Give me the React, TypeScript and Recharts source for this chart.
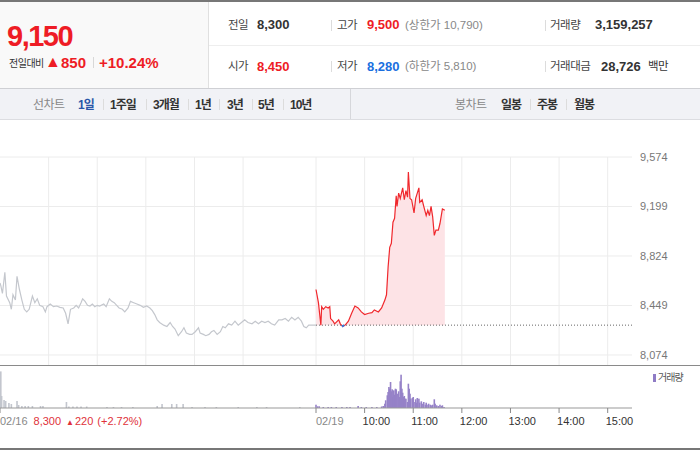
import React from 'react';
import { ComposedChart, Line, Area, Bar, XAxis, YAxis, CartesianGrid } from 'recharts';

const FONT = '"Liberation Sans", Arial, "Noto Sans CJK KR", "DejaVu Sans", sans-serif';

// ---------- data ----------
const prevClose = 8300;
const priceTicks = [8074, 8449, 8824, 9199, 9574];
const gridMinutes = [0, 60, 120, 180, 240, 300, 360, 390, 450, 510, 570, 630, 690, 750];
const axisTicks = [0, 390, 450, 510, 570, 630, 690, 750];
const axisLabels = ['02/16', '02/19', '10:00', '11:00', '12:00', '13:00', '14:00', '15:00'];
const prevSummary = { close: '8,300', change: '220', rate: '(+2.72%)' };

// 02/16 (previous session) price, [time, price]
const prevSession: [string, number][] = [
  ['09:00', 8620], ['09:01', 8600], ['09:03', 8540], ['09:06', 8700], ['09:08', 8520], ['09:12', 8470], ['09:14', 8420], ['09:16', 8530], ['09:19', 8490], ['09:21', 8670],
  ['09:24', 8570], ['09:27', 8490], ['09:30', 8420], ['09:33', 8400], ['09:36', 8420], ['09:40', 8520], ['09:43', 8470], ['09:46', 8500], ['09:49', 8450], ['09:53', 8440],
  ['09:56', 8400], ['09:58', 8440], ['10:02', 8460], ['10:06', 8440], ['10:10', 8445], ['10:14', 8435], ['10:18', 8430], ['10:21', 8390], ['10:24', 8310], ['10:27', 8420],
  ['10:31', 8430], ['10:34', 8450], ['10:37', 8430], ['10:40', 8470], ['10:42', 8500], ['10:45', 8480], ['10:48', 8450], ['10:51', 8445], ['10:54', 8460], ['10:57', 8440],
  ['11:00', 8450], ['11:03', 8445], ['11:08', 8460], ['11:11', 8440], ['11:15', 8500], ['11:18', 8480], ['11:21', 8470], ['11:24', 8450], ['11:27', 8430], ['11:31', 8420],
  ['11:34', 8400], ['11:38', 8430], ['11:41', 8480], ['11:45', 8470], ['11:49', 8460], ['11:53', 8450], ['11:57', 8435], ['12:01', 8445], ['12:05', 8430], ['12:08', 8410],
  ['12:11', 8380], ['12:14', 8340], ['12:17', 8320], ['12:22', 8300], ['12:26', 8290], ['12:30', 8320], ['12:33', 8290], ['12:36', 8270], ['12:40', 8220], ['12:44', 8250],
  ['12:47', 8280], ['12:50', 8240], ['12:54', 8230], ['12:57', 8230], ['13:01', 8250], ['13:05', 8280], ['13:07', 8240], ['13:11', 8230], ['13:14', 8220], ['13:18', 8230],
  ['13:21', 8250], ['13:24', 8260], ['13:28', 8230], ['13:32', 8250], ['13:35', 8290], ['13:38', 8280], ['13:42', 8310], ['13:46', 8300], ['13:50', 8330], ['13:54', 8300],
  ['13:58', 8320], ['14:02', 8340], ['14:06', 8320], ['14:11', 8310], ['14:15', 8330], ['14:19', 8310], ['14:23', 8330], ['14:27', 8320], ['14:31', 8330], ['14:35', 8310],
  ['14:39', 8300], ['14:44', 8340], ['14:48', 8340], ['14:52', 8350], ['14:56', 8330], ['15:00', 8360], ['15:04', 8340], ['15:08', 8360], ['15:12', 8330], ['15:15', 8290],
  ['15:18', 8280], ['15:21', 8300], ['15:30', 8300],
];

// 02/19 (today) price, [time, price]
const todaySession: [string, number][] = [
  ['09:00', 8570], ['09:03', 8470], ['09:06', 8300], ['09:07', 8440], ['09:09', 8420], ['09:12', 8440], ['09:15', 8430], ['09:17', 8440], ['09:18', 8350], ['09:21', 8330],
  ['09:23', 8310], ['09:28', 8340], ['09:30', 8310], ['09:33', 8290], ['09:36', 8300], ['09:40', 8330], ['09:44', 8390], ['09:48', 8445], ['09:52', 8430], ['09:56', 8400],
  ['10:00', 8380], ['10:05', 8390], ['10:09', 8395], ['10:12', 8415], ['10:17', 8400], ['10:21', 8430], ['10:25', 8490], ['10:27', 8530], ['10:29', 8740], ['10:31', 8890],
  ['10:33', 8920], ['10:35', 9080], ['10:37', 9110], ['10:39', 9280], ['10:40', 9200], ['10:42', 9300], ['10:44', 9260], ['10:47', 9340], ['10:49', 9250], ['10:51', 9320],
  ['10:53', 9270], ['10:54', 9460], ['10:56', 9260], ['10:58', 9250], ['11:01', 9150], ['11:03', 9260], ['11:05', 9300], ['11:07', 9340], ['11:08', 9230], ['11:11', 9250],
  ['11:13', 9200], ['11:16', 9130], ['11:18', 9170], ['11:20', 9130], ['11:22', 9200], ['11:24', 9120], ['11:26', 8980], ['11:28', 9020], ['11:31', 9020], ['11:33', 9070],
  ['11:36', 9180], ['11:39', 9170],
];

// part of today's line below the previous close (drawn blue)
const todayBelowClose: [string, number][] = [['09:32', 8300], ['09:33', 8290], ['09:35', 8300]];

// volume, [time, shares]
const prevVolume: [string, number][] = [
  ['09:00', 183000], ['09:02', 60000], ['09:05', 40000], ['09:07', 35000], ['09:11', 25000], ['09:14', 20000], ['09:21', 35000], ['09:23', 15000], ['09:27', 10000], ['09:31', 10000],
  ['09:35', 10000], ['09:40', 10000], ['09:50', 10000], ['09:53', 10000], ['10:22', 30000], ['10:25', 7500], ['10:30', 7500], ['10:35', 7500], ['10:40', 7500], ['10:47', 7500],
  ['11:12', 5000], ['11:20', 5000], ['11:30', 5000], ['11:44', 5000], ['12:14', 10000], ['12:20', 20000], ['12:32', 20000], ['12:38', 20000], ['12:46', 20000], ['12:57', 5000],
  ['13:13', 5000], ['13:27', 5000], ['13:54', 5000], ['14:17', 5000], ['14:29', 5000], ['15:10', 5000],
];
const todayVolume: [string, number][] = [
  ['09:00', 16500], ['09:02', 8500], ['09:04', 8500], ['09:09', 5000], ['09:15', 5000], ['09:19', 5000], ['09:25', 5000], ['09:32', 5000], ['09:38', 5000], ['09:42', 5000],
  ['09:52', 10000], ['09:56', 5000], ['10:02', 5000], ['10:09', 5000], ['10:15', 5000], ['10:21', 7500], ['10:23', 10000],
  ['10:25', 21500], ['10:26', 38500], ['10:28', 63500], ['10:29', 80000], ['10:30', 105000], ['10:31', 96500], ['10:32', 130000], ['10:33', 83500], ['10:34', 93500], ['10:35', 55000],
  ['10:36', 88500], ['10:37', 66500], ['10:38', 96500], ['10:39', 93500], ['10:41', 71500], ['10:42', 83500], ['10:43', 55000], ['10:44', 133500], ['10:45', 166500], ['10:46', 96500],
  ['10:47', 76500], ['10:48', 55000], ['10:49', 60000], ['10:50', 46500], ['10:51', 46500], ['10:53', 30000], ['10:54', 121500], ['10:55', 96500], ['10:56', 71500], ['10:57', 46500],
  ['10:59', 50000], ['11:00', 55000], ['11:01', 30000], ['11:03', 43500], ['11:04', 26500], ['11:05', 50000], ['11:07', 46500], ['11:08', 26500], ['11:10', 33500], ['11:11', 21500],
  ['11:13', 30000], ['11:15', 16500], ['11:16', 26500], ['11:17', 16500], ['11:19', 21500], ['11:21', 16500], ['11:23', 13500], ['11:24', 16500], ['11:26', 43500], ['11:27', 21500],
  ['11:29', 13500], ['11:31', 10000], ['11:33', 16500], ['11:35', 10000], ['11:36', 13500], ['11:38', 5000],
];

// ---------- helpers ----------
const SESSION = 390; // minutes 09:00-15:30
const toMin = (day: number, hhmm: string) => {
  const [h, m] = hhmm.split(':').map(Number);
  return day * SESSION + (h - 9) * 60 + m;
};
const prevData = prevSession.map(([t, p]) => ({ t: toMin(0, t), p }));
const todayData = todaySession.map(([t, p]) => ({ t: toMin(1, t), p }));
const dipData = todayBelowClose.map(([t, p]) => ({ t: toMin(1, t), p }));
const baseData = [{ t: SESSION, p: prevClose }, { t: SESSION * 2, p: prevClose }];
const volMap = new Map<number, { t: number; prev?: number; today?: number }>();
prevVolume.forEach(([t, v]) => { const k = toMin(0, t); volMap.set(k, { ...(volMap.get(k) || { t: k }), prev: v }); });
todayVolume.forEach(([t, v]) => { const k = toMin(1, t); volMap.set(k, { ...(volMap.get(k) || { t: k }), today: v }); });
const volData = Array.from(volMap.values()).sort((a, b) => a.t - b.t);

const fmt = (v: number) => v.toLocaleString('en-US');

const RED = '#ee1c25';
const BLUE = '#1a6fe0';

const T = ({ x, base, size, color = '#333', bold = false, ls = 0, children }: any) => (
  <span
    style={{
      position: 'absolute', left: x, top: base - 0.8465 * size, fontSize: size, lineHeight: 1,
      color, fontWeight: bold ? 700 : 400, letterSpacing: ls, whiteSpace: 'nowrap', fontFamily: FONT,
    }}
  >
    {children}
  </span>
);
const VSep = ({ x, top, h, color = '#dcdcdc' }: any) => (
  <div style={{ position: 'absolute', left: x, top, width: 1, height: h, background: color }} />
);

// thin volume stick centred on its minute, at least 1.6px wide
const VolStick = (props: any) => {
  const { x, y, width, height, fill, fillOpacity } = props;
  if (!height || height <= 0) return null;
  const cx = x + width / 2;
  const w = 1.6;
  const left = Math.max(0, cx - w / 2);
  return <rect x={left} y={y} width={w} height={height} fill={fill} fillOpacity={fillOpacity} />;
};

const VolTick = (props: any) => {
  const { x, y, payload } = props;
  const idx = axisTicks.indexOf(payload.value);
  const label = axisLabels[idx] ?? '';
  const common = { fontSize: 11, fontFamily: FONT };
  if (payload.value === 0) {
    return (
      <text x={x} y={y} dy={10} textAnchor="start" {...common}>
        <tspan fill="#888">{label}</tspan>
        <tspan fill="#e0323a" dx={6}>{prevSummary.close}</tspan>
        <tspan fill="#e0323a" dx={5} fontSize={8}>▲</tspan>
        <tspan fill="#e0323a" dx={1}>{prevSummary.change}</tspan>
        <tspan fill="#e0323a" dx={4}>{prevSummary.rate}</tspan>
      </text>
    );
  }
  const isDate = label.includes('/');
  return (
    <text x={isDate ? x : x - 2} y={y} dy={10} textAnchor="start" fill={isDate ? '#888' : '#333'} {...common}>
      {label}
    </text>
  );
};

export default function App() {
  const row1 = 29.5;
  const row2 = 71;
  const tabBase = 109;
  return (
    <div style={{ position: 'absolute', left: 0, top: 0, width: 700, height: 450, background: '#fff', overflow: 'hidden', fontFamily: FONT }}>
      {/* top frame */}
      <div style={{ position: 'absolute', left: 0, top: 0, width: 700, height: 2, background: '#777' }} />
      {/* left summary panel */}
      <div style={{ position: 'absolute', left: 0, top: 2, width: 208, height: 86, background: '#f9f9f9', borderRight: '1px solid #e0e0e0' }} />
      <T x={7} base={47} size={29} color={RED} bold ls={-1.5}>9,150</T>
      <T x={9} base={67} size={10} color="#333" ls={-0.5}>전일대비</T>
      <T x={45} base={67.5} size={16} color={RED}>▲</T>
      <T x={61} base={68} size={15} color={RED} bold>850</T>
      <VSep x={93} top={57} h={11} color="#d8d8d8" />
      <T x={99} base={68} size={15} color={RED} bold>+10.24%</T>

      {/* right info rows */}
      <div style={{ position: 'absolute', left: 209, top: 45, width: 491, height: 1, background: '#eeeeee' }} />
      <T x={228} base={row1} size={11.5} color="#444" ls={-0.5}>전일</T>
      <T x={257} base={row1} size={13} color="#333" bold>8,300</T>
      <VSep x={331} top={20} h={11} />
      <T x={337} base={row1} size={11.5} color="#444" ls={-0.5}>고가</T>
      <T x={367} base={row1} size={13} color={RED} bold>9,500</T>
      <T x={405} base={row1} size={11.5} color="#888">(상한가 10,790)</T>
      <VSep x={545} top={20} h={11} />
      <T x={550} base={row1} size={11.5} color="#444" ls={-0.5}>거래량</T>
      <T x={595} base={row1} size={13} color="#333" bold>3,159,257</T>

      <T x={228} base={row2} size={11.5} color="#444" ls={-0.5}>시가</T>
      <T x={257} base={row2} size={13} color={RED} bold>8,450</T>
      <VSep x={331} top={61} h={11} />
      <T x={337} base={row2} size={11.5} color="#444" ls={-0.5}>저가</T>
      <T x={367} base={row2} size={13} color={BLUE} bold>8,280</T>
      <T x={405} base={row2} size={11.5} color="#888">(하한가 5,810)</T>
      <VSep x={545} top={61} h={11} />
      <T x={550} base={row2} size={11.5} color="#444" ls={-0.5}>거래대금</T>
      <T x={601} base={row2} size={13} color="#333" bold>28,726</T>
      <T x={648} base={row2} size={11.5} color="#333" ls={-0.5}>백만</T>

      {/* tab bar */}
      <div style={{ position: 'absolute', left: 0, top: 88, width: 700, height: 30, background: '#f1f2f6', borderTop: '1px solid #cfd0d4', borderBottom: '1px solid #dcdde1' }} />
      <VSep x={350} top={89} h={30} color="#d6d7db" />
      <T x={33} base={tabBase} size={12} color="#888" ls={-0.5}>선차트</T>
      <T x={78} base={tabBase} size={12} color="#2a56a8" bold ls={-1}>1일</T>
      <VSep x={103} top={99} h={11} />
      <T x={110} base={tabBase} size={12} color="#333" bold ls={-1}>1주일</T>
      <VSep x={146} top={99} h={11} />
      <T x={153} base={tabBase} size={12} color="#333" bold ls={-1}>3개월</T>
      <VSep x={188} top={99} h={11} />
      <T x={195} base={tabBase} size={12} color="#333" bold ls={-1}>1년</T>
      <VSep x={219} top={99} h={11} />
      <T x={227} base={tabBase} size={12} color="#333" bold ls={-1}>3년</T>
      <VSep x={252} top={99} h={11} />
      <T x={258} base={tabBase} size={12} color="#333" bold ls={-1}>5년</T>
      <VSep x={283} top={99} h={11} />
      <T x={290} base={tabBase} size={12} color="#333" bold ls={-1}>10년</T>
      <T x={455} base={tabBase} size={12} color="#888" ls={-0.5}>봉차트</T>
      <T x={501} base={tabBase} size={12} color="#333" bold ls={-1}>일봉</T>
      <VSep x={530} top={99} h={11} />
      <T x={537} base={tabBase} size={12} color="#333" bold ls={-1}>주봉</T>
      <VSep x={566} top={99} h={11} />
      <T x={574} base={tabBase} size={12} color="#333" bold ls={-1}>월봉</T>

      {/* price chart */}
      <div style={{ position: 'absolute', left: 0, top: 140 }}>
        <ComposedChart width={700} height={225} margin={{ top: 17, right: 0, bottom: 0, left: 0 }}>
          <CartesianGrid stroke="#ececec" horizontalValues={priceTicks} verticalValues={gridMinutes} />
          <XAxis type="number" dataKey="t" domain={[0, SESSION * 2]} hide allowDataOverflow />
          <YAxis
            orientation="right" width={68} domain={[7998, 9574]} ticks={priceTicks} interval={0}
            axisLine={false} tickLine={false} allowDataOverflow tickFormatter={fmt}
            tick={{ fontSize: 11, fill: '#777', fontFamily: FONT }}
          />
          <Area data={todayData} dataKey="p" type="linear" baseValue={prevClose} stroke="none" fill="#fde3e6" fillOpacity={1} isAnimationActive={false} />
          <Line data={prevData} dataKey="p" type="linear" stroke="#c4c7cd" strokeWidth={1.2} dot={false} isAnimationActive={false} />
          <Line data={baseData} dataKey="p" type="linear" stroke="#666" strokeWidth={1} strokeDasharray="1 2" dot={false} isAnimationActive={false} />
          <Line data={todayData} dataKey="p" type="linear" stroke="#f0282d" strokeWidth={1.2} dot={false} isAnimationActive={false} />
          <Line data={dipData} dataKey="p" type="linear" stroke="#2f7de1" strokeWidth={1.5} dot={false} isAnimationActive={false} />
        </ComposedChart>
      </div>
      <div style={{ position: 'absolute', left: 0, top: 365, width: 700, height: 1, background: '#8a8a8a' }} />

      {/* volume chart */}
      <div style={{ position: 'absolute', left: 0, top: 366 }}>
        <ComposedChart width={700} height={70} data={volData} margin={{ top: 0, right: 68, bottom: 0, left: 0 }}>
          <XAxis
            type="number" dataKey="t" domain={[0, SESSION * 2]} ticks={axisTicks} interval={0} allowDataOverflow
            tickSize={5} tickLine={{ stroke: '#888' }} axisLine={{ stroke: '#999' }} height={28}
            tick={(p: any) => <VolTick {...p} />}
          />
          <YAxis hide domain={[0, 210000]} allowDataOverflow />
          <Bar dataKey="prev" stackId="v" fill="#c3c6ce" shape={(p: any) => <VolStick {...p} />} isAnimationActive={false} />
          <Bar dataKey="today" stackId="v" fill="#9682c8" shape={(p: any) => <VolStick {...p} />} isAnimationActive={false} />
        </ComposedChart>
      </div>
      <div style={{ position: 'absolute', left: 653, top: 374, width: 3, height: 8, background: '#8f7bc5' }} />
      <T x={658} base={381.5} size={10} color="#555" ls={-1}>거래량</T>

      {/* bottom frame */}
      <div style={{ position: 'absolute', left: 0, top: 448, width: 700, height: 2, background: '#777' }} />
    </div>
  );
}
